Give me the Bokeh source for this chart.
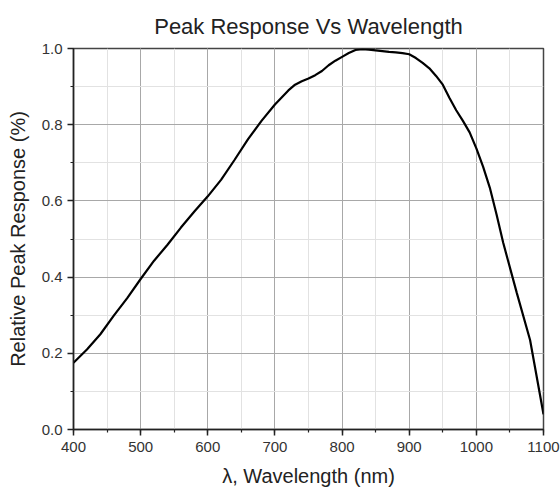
from bokeh.plotting import figure
from bokeh.models import Range1d, SingleIntervalTicker, NumeralTickFormatter
from bokeh.embed import file_html
from bokeh.resources import INLINE

wavelength = [400, 420, 440, 460, 480, 500, 520, 540, 560, 580, 600, 620, 640, 660,
              680, 700, 720, 730, 740, 750, 760, 770, 780, 790, 800, 810, 820, 830,
              840, 850, 860, 870, 880, 890, 900, 910, 920, 930, 940, 950, 960, 970,
              980, 990, 1000, 1010, 1020, 1030, 1040, 1060, 1080, 1100]
response = [0.175, 0.21, 0.25, 0.299, 0.345, 0.395, 0.443, 0.485, 0.53, 0.572, 0.612,
            0.656, 0.708, 0.762, 0.81, 0.853, 0.89, 0.905, 0.914, 0.921, 0.930, 0.941,
            0.956, 0.968, 0.978, 0.988, 0.996, 0.998, 0.997, 0.995, 0.993, 0.991, 0.990,
            0.988, 0.985, 0.975, 0.962, 0.948, 0.928, 0.905, 0.870, 0.838, 0.810, 0.780,
            0.738, 0.690, 0.635, 0.565, 0.49, 0.36, 0.235, 0.04]

FONT = "Liberation Sans"

p = figure(width=560, height=491, output_backend="svg", toolbar_location=None,
           x_range=Range1d(400, 1100), y_range=Range1d(0, 1),
           title="Peak Response Vs Wavelength",
           min_border_left=73, min_border_right=17, min_border_top=48, min_border_bottom=62)

p.title.align = "center"
p.title.text_font = FONT
p.title.text_font_size = "22px"
p.title.text_font_style = "normal"
p.title.text_color = "#222222"
p.title.standoff = 20

p.line(wavelength, response, line_color="black", line_width=2.2)

p.xaxis.ticker = SingleIntervalTicker(interval=100, num_minor_ticks=2)
p.yaxis.ticker = SingleIntervalTicker(interval=0.2, num_minor_ticks=2)
p.yaxis.formatter = NumeralTickFormatter(format="0.0")

p.xaxis.axis_label = "λ, Wavelength (nm)"
p.yaxis.axis_label = "Relative Peak Response (%)"

for ax in (p.xaxis, p.yaxis):
    ax.axis_label_text_font = FONT
    ax.axis_label_text_font_size = "20px"
    ax.axis_label_text_font_style = "normal"
    ax.axis_label_text_color = "#222222"
    ax.major_label_text_font = FONT
    ax.major_label_text_font_size = "15px"
    ax.major_label_text_color = "#333333"
    ax.axis_line_color = "#222222"
    ax.axis_line_width = 1.5
    ax.major_tick_line_color = "#222222"
    ax.minor_tick_line_color = "#222222"
    ax.major_tick_line_width = 1.5
    ax.minor_tick_line_width = 1.2
    ax.major_tick_out = 6
    ax.major_tick_in = 0
    ax.minor_tick_out = 3
    ax.minor_tick_in = 0

p.xaxis.major_label_standoff = 6
p.yaxis.major_label_standoff = 5
p.xaxis.axis_label_standoff = 10
p.yaxis.axis_label_standoff = 10

for g in (p.xgrid, p.ygrid):
    g.grid_line_color = "#a8a8a8"
    g.grid_line_width = 1
    g.minor_grid_line_color = "#e2e2e2"
    g.minor_grid_line_width = 1

p.outline_line_color = "#444444"
p.outline_line_width = 1.5
p.background_fill_color = "white"
p.border_fill_color = "white"

open("out.html", "w").write(file_html(p, INLINE))
